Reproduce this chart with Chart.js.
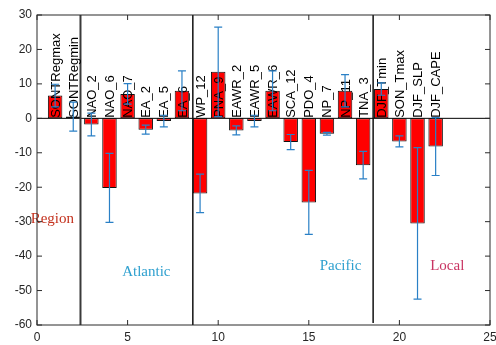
<!DOCTYPE html>
<html><head><meta charset="utf-8">
<script src="https://cdn.jsdelivr.net/npm/chart.js@4.4.0/dist/chart.umd.min.js"></script>
<style>html,body{margin:0;padding:0;background:#fff}#wrap{width:496px;height:345px;position:relative}</style>
</head><body><div id="wrap"><canvas id="c"></canvas></div>
<script>
const names = ['SONTRegmax','SONTRegmin','NAO_2','NAO_6','NAO_7','EA_2','EA_5','EA_6','WP_12','PNA_9','EAWR_2','EAWR_5','EAWR_6','SCA_12','PDO_4','NP_7','NP_11','TNA_3','DJF_Tmin','SON_Tmax','DJF_SLP','DJF_CAPE'];
const values = [6.6,0.5,-1.8,-20.2,7.1,-3.3,-0.8,8.0,-21.8,13.5,-3.5,-0.8,8.0,-6.9,-24.4,-4.5,8.0,-13.6,8.5,-6.7,-30.5,-8.2];
const errors = [3.3,4.2,3.3,10,3.0,1.3,1.7,5.8,5.6,13,1.3,1.7,5.8,2.2,9.3,0.4,4.7,4.0,1.8,1.6,22,8.4];
const dividers = [2.4, 8.6, 18.55];
const groupNames = ['Region','Atlantic','Pacific','Local'];
const groupX = [-0.35, 4.7, 15.6, 21.7];
const groupY = [-29.3, -44.6, -43, -43];
const groupColors = ['#c4321e','#2ea0cf','#2ea0cf','#c83462'];
const xTicks = [0,5,10,15,20,25];
const yTicks = [30,20,10,0,-10,-20,-30,-40,-50,-60];

const axisColor = '#2b2b2b';

const overlay = {
  id:'overlay',
  afterDatasetsDraw(chart){
    const ctx = chart.ctx, xs = chart.scales.x, ys = chart.scales.y, a = chart.chartArea;
    ctx.save();
    const y0 = ys.getPixelForValue(0);
    ctx.strokeStyle = '#000'; ctx.lineWidth = 1;
    ctx.beginPath(); ctx.moveTo(a.left, y0); ctx.lineTo(a.right, y0); ctx.stroke();
    dividers.forEach((d,i)=>{
      const px = xs.getPixelForValue(d);
      ctx.strokeStyle = i===0 ? '#3a3a3a' : '#111';
      ctx.lineWidth = i===0 ? 2 : 1.5;
      ctx.beginPath(); ctx.moveTo(px, a.top); ctx.lineTo(px, i===2 ? a.bottom-2 : a.bottom); ctx.stroke();
    });
    ctx.fillStyle = '#000';
    ctx.font = '13px "Liberation Sans", Arial, sans-serif';
    ctx.textAlign = 'left'; ctx.textBaseline = 'middle';
    names.forEach((n,i)=>{
      const px = xs.getPixelForValue(i+1);
      ctx.save(); ctx.translate(px+1, y0-0.5); ctx.rotate(-Math.PI/2);
      ctx.fillText(n, 0, 0); ctx.restore();
    });
    ctx.strokeStyle = '#2a80c6'; ctx.lineWidth = 1.2;
    values.forEach((v,i)=>{
      const px = xs.getPixelForValue(i+1);
      const yt = ys.getPixelForValue(v+errors[i]);
      const yb = ys.getPixelForValue(v-errors[i]);
      ctx.beginPath();
      ctx.moveTo(px, yt); ctx.lineTo(px, yb);
      ctx.moveTo(px-4, yt); ctx.lineTo(px+4, yt);
      ctx.moveTo(px-4, yb); ctx.lineTo(px+4, yb);
      ctx.stroke();
    });
    ctx.font = '15px "Liberation Serif", "Times New Roman", serif';
    ctx.textAlign = 'left'; ctx.textBaseline = 'middle';
    groupNames.forEach((g,i)=>{
      ctx.fillStyle = groupColors[i];
      ctx.fillText(g, xs.getPixelForValue(groupX[i]), ys.getPixelForValue(groupY[i]));
    });
    ctx.strokeStyle = axisColor; ctx.lineWidth = 1;
    ctx.strokeRect(a.left, a.top, a.right-a.left, a.bottom-a.top);
    ctx.beginPath();
    xTicks.forEach(t=>{
      const px = xs.getPixelForValue(t);
      ctx.moveTo(px, a.bottom); ctx.lineTo(px, a.bottom-5);
      ctx.moveTo(px, a.top); ctx.lineTo(px, a.top+5);
    });
    yTicks.forEach(t=>{
      const py = ys.getPixelForValue(t);
      ctx.moveTo(a.left, py); ctx.lineTo(a.left+5, py);
      ctx.moveTo(a.right, py); ctx.lineTo(a.right-5, py);
    });
    ctx.stroke();
    ctx.restore();
  }
};

new Chart(document.getElementById('c'), {
  type:'bar',
  data:{ datasets:[{
    data: values.map((v,i)=>({x:i+1, y:v})),
    backgroundColor:'#ff0000', borderColor:'#111', borderWidth:1, borderSkipped:false,
    barPercentage:0.8, categoryPercentage:1.0
  }]},
  options:{
    responsive:true, maintainAspectRatio:false, animation:false,
    layout:{padding:{left:0, right:6, top:15, bottom:0}},
    plugins:{legend:{display:false}, tooltip:{enabled:false}},
    scales:{
      x:{type:'linear', min:0, max:25, offset:false,
         afterBuildTicks(s){ s.ticks = xTicks.map(v=>({value:v})); },
         afterFit(s){ s.height = 20; s.paddingRight = 0; s.paddingLeft = 0; },
         grid:{display:false, drawTicks:false}, border:{display:false},
         ticks:{color:'#262626', padding:5, maxRotation:0, autoSkip:false, font:{family:'"Liberation Sans", Arial', size:12}}},
      y:{min:-60, max:30,
         afterBuildTicks(s){ s.ticks = yTicks.map(v=>({value:v})); },
         afterFit(s){ s.width = 37; s.paddingTop = 0; s.paddingBottom = 0; },
         grid:{display:false, drawTicks:false}, border:{display:false},
         ticks:{color:'#262626', padding:5, autoSkip:false, font:{family:'"Liberation Sans", Arial', size:12}}}
    }
  },
  plugins:[overlay]
});
</script></body></html>
